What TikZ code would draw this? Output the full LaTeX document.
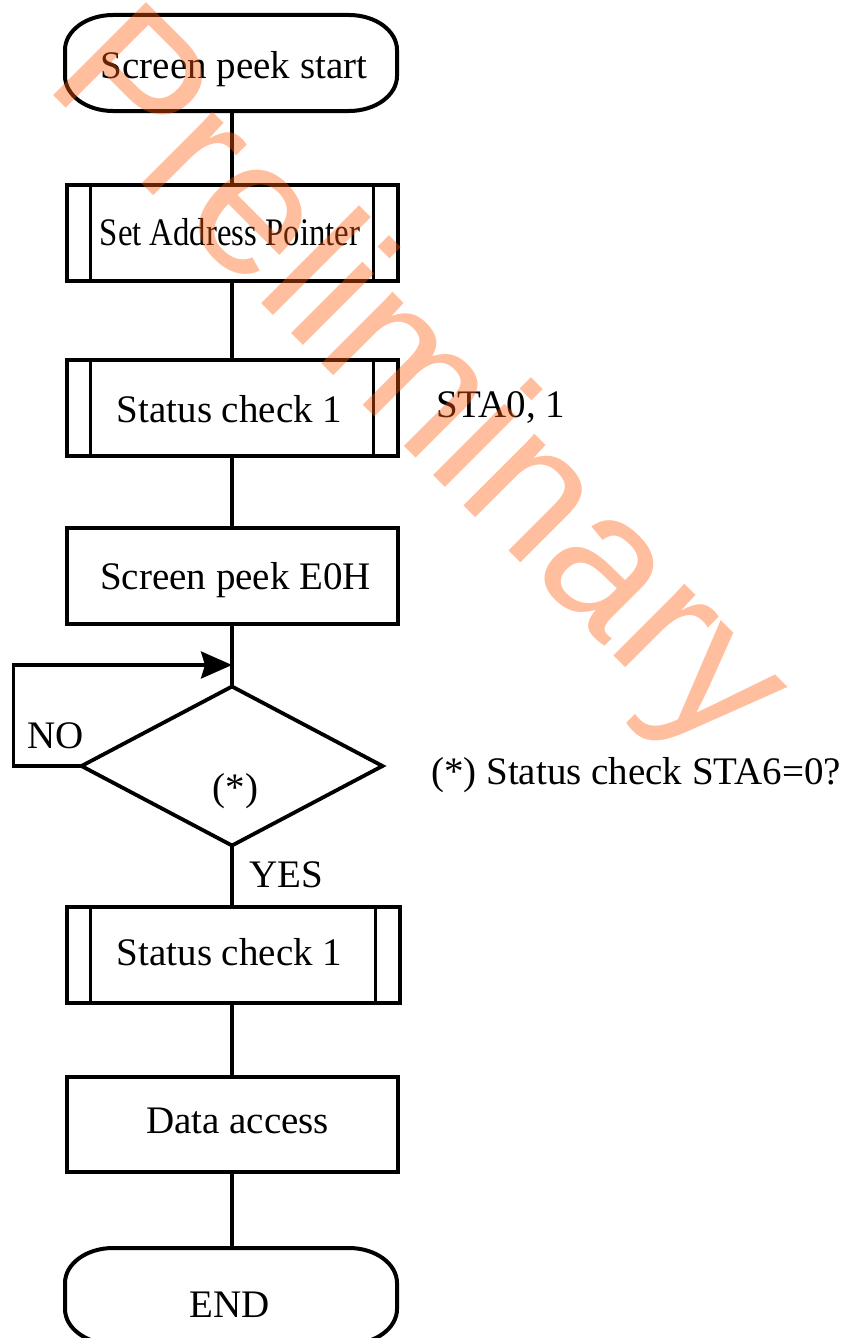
\documentclass[tikz,border=0pt]{standalone}
\usepackage{fontspec}
\setmainfont{Liberation Serif}
\newfontfamily\wmfont{Liberation Sans}
\usetikzlibrary{calc,shapes.geometric,arrows.meta}
\definecolor{wmorange}{RGB}{255,92,13}
\newcommand\termshape[1]{%
  \draw[outline]
    ($(#1.north west)+(48,0)$) -- ($(#1.north east)+(-48,0)$)
    .. controls ($(#1.north east)+(-21.5,0)$) and ($(#1.north east)+(0,15.7)$) .. ($(#1.north east)+(0,35)$)
    -- ($(#1.south east)+(0,-35)$)
    .. controls ($(#1.south east)+(0,-15.7)$) and ($(#1.south east)+(-21.5,0)$) .. ($(#1.south east)+(-48,0)$)
    -- ($(#1.south west)+(48,0)$)
    .. controls ($(#1.south west)+(21.5,0)$) and ($(#1.south west)+(0,-15.7)$) .. ($(#1.south west)+(0,-35)$)
    -- ($(#1.north west)+(0,35)$)
    .. controls ($(#1.north west)+(0,15.7)$) and ($(#1.north west)+(21.5,0)$) .. ($(#1.north west)+(48,0)$)
    -- cycle;}
\newcommand\subbars[1]{%
  \draw[barline] ($(#1.north west)+(24,0)$) -- ($(#1.south west)+(24,0)$);
  \draw[barline] ($(#1.north east)+(-24,0)$) -- ($(#1.south east)+(-24,0)$);}
\begin{document}
\begin{tikzpicture}[x=1pt,y=-1pt,
  outline/.style={line width=4pt, line join=miter},
  barline/.style={line width=3.5pt},
  boxshape/.style={rectangle, line width=4pt, minimum width=331pt, minimum height=96pt, inner sep=0pt, outer sep=0pt},
  termnode/.style={rectangle, draw=none, minimum width=332pt, minimum height=96pt, inner sep=0pt, outer sep=0pt},
  decision/.style={diamond, draw, line width=3.8pt, minimum width=301pt, minimum height=159pt, aspect=1.893, inner sep=0pt, outer sep=0pt},
  txt/.style={font=\fontsize{39}{45}\selectfont, inner sep=0pt, anchor=base},
  conn/.style={line width=3.4pt},
  arr/.style={line width=3.4pt, -{Stealth[length=31pt, width=27pt, inset=4pt]}},
  wm/.style={font=\wmfont\fontsize{191}{200}\selectfont, text=wmorange, text opacity=0.4, inner sep=0pt, outer sep=0pt, anchor=base west, rotate=-45}
]
\useasboundingbox (0,0) rectangle (851,1338);

% shapes
\node[termnode] (start) at (231,63) {};
\termshape{start}
\node[boxshape, draw] (sap) at (232,233) {};
\subbars{sap}
\node[boxshape, draw] (sc1) at (232,408) {};
\subbars{sc1}
\node[boxshape, draw] (peek) at (232,576) {};
\node[decision] (dia) at (232,766) {};
\node[boxshape, draw, minimum width=333pt] (sc2) at (233,955) {};
\subbars{sc2}
\node[boxshape, draw, minimum height=95pt] (data) at (232,1124.5) {};
\node[termnode] (end) at (231,1296) {};
\termshape{end}

% texts
\node[txt] (t1) at (234,78) {Screen peek start};
\node[txt] (t2) at (230,245) {\scalebox{0.84}[1]{Set Address Pointer}};
\node[txt] (t3) at (229.5,422) {Status check 1};
\node[txt] (t4) at (235.5,589) {Screen peek E0H};
\node[txt] (t5) at (235.5,800) {(*)};
\node[txt] (t6) at (229.5,965) {Status check 1};
\node[txt] (t7) at (237.5,1133) {Data access};
\node[txt] (t8) at (230,1317) {END};
\node[txt] (no) at (56,748) {NO};
\node[txt] (yes) at (286,887) {YES};
\node[txt, anchor=base west] (sta) at (436,417) {STA0, 1};
\node[txt, anchor=base west] (note) at (431,784) {(*) Status check STA6=0?};

% connectors
\coordinate (loopin) at (232,665);
\draw[conn] (start.south -| sap.north) -- (sap.north);
\draw[conn] (sap.south) -- (sc1.north);
\draw[conn] (sc1.south) -- (peek.north);
\draw[conn] (peek.south) -- (dia.north);
\draw[arr] (dia.west) -- ++(-68,0) |- (loopin);
\draw[conn] (dia.south) -- (dia.south |- sc2.north);
\draw[conn] (sc2.south -| data.north) -- (data.north);
\draw[conn] (data.south) -- (data.south |- end.north);

% watermark
\node[wm] (watermark) at (42,84) {Preliminary};
\end{tikzpicture}
\end{document}
